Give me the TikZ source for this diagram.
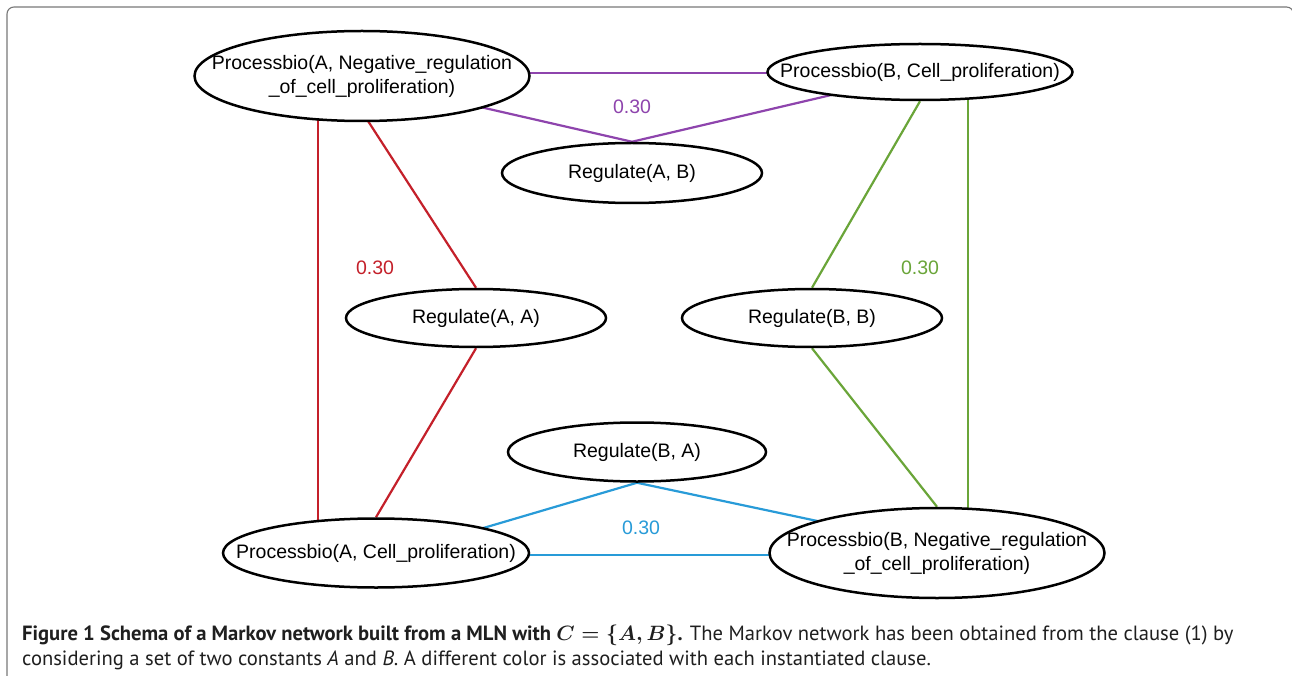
\documentclass[tikz,border=0pt]{standalone}
\usepackage{amsmath}
\usepackage{fontspec}
\setmainfont{Liberation Sans}
\newfontfamily\capfont{PT Sans}
\usetikzlibrary{shapes.geometric,calc,backgrounds}
\definecolor{cpurple}{RGB}{142,68,173}
\definecolor{cred}{RGB}{196,32,42}
\definecolor{cgreen}{RGB}{106,165,57}
\definecolor{cblue}{RGB}{40,155,216}
\definecolor{frame}{RGB}{120,120,120}
\begin{document}
\begin{tikzpicture}[x=1pt,y=-1pt,
  atom/.style={ellipse,draw=black,line width=2.5pt,fill=white,inner xsep=-300pt,inner ysep=-100pt,align=center,
    font=\fontsize{19.5}{24}\selectfont},
  link/.style={line width=2.2pt},
  wt/.style={font=\fontsize{19.5}{24}\selectfont,inner sep=0pt}]
\useasboundingbox (0,0) rectangle (1292,676);

% nodes
\node[atom,minimum width=335pt,minimum height=90pt] (PAN) at (362,76) {Processbio(A, Negative\_regulation\\\_of\_cell\_proliferation)};
\node[atom,minimum width=305pt,minimum height=56pt] (PBC) at (920,72) {Processbio(B, Cell\_proliferation)};
\node[atom,minimum width=260pt,minimum height=60pt] (RAB) at (632,173) {Regulate(A, B)};
\node[atom,minimum width=260pt,minimum height=58pt] (RAA) at (476,318) {Regulate(A, A)};
\node[atom,minimum width=260pt,minimum height=58pt] (RBB) at (812,318) {Regulate(B, B)};
\node[atom,minimum width=258pt,minimum height=59pt] (RBA) at (637,452) {Regulate(B, A)};
\node[atom,minimum width=306pt,minimum height=69pt] (PAC) at (376,553) {Processbio(A, Cell\_proliferation)};
\node[atom,minimum width=335pt,minimum height=90pt] (PBN) at (937,553) {Processbio(B, Negative\_regulation\\\_of\_cell\_proliferation)};

% weights
\node[wt,text=cpurple] (wP) at (632,107) {0.30};
\node[wt,text=cred] (wR) at (375,268) {0.30};
\node[wt,text=cgreen] (wG) at (920,268) {0.30};
\node[wt,text=cblue] (wB) at (641,528) {0.30};

% caption
\node[anchor=base west,align=left,inner sep=0pt,text=black!88,
  font=\capfont\fontsize{20.6}{25}\selectfont] (cap) at (22,665)
  {\textbf{Figure 1 Schema of a Markov network built from a MLN with {\boldmath$C = \{A, B\}$}.} The Markov network has been obtained from the clause (1) by\\
  considering a set of two constants \textit{A} and \textit{B}. A different color is associated with each instantiated clause.};

\begin{scope}[on background layer]
\fill[white] (0,0) rectangle (1292,676);
\draw[frame,line width=1.1pt,rounded corners=7pt] (7,700) -- (7,7) -- (1293.5,7) -- (1293.5,700);
% purple
\draw[link,cpurple] ($(PAN.center)+(0,-3)$) -- ($(PBC.center)+(0,1)$);
\draw[link,cpurple] ($(PAN.center)+(78,21.8)$) -- (RAB.north);
\draw[link,cpurple] ($(PBC.center)+(-70,18.6)$) -- (RAB.north);
% red
\draw[link,cred] ($(PAN.center)+(-44,0)$) -- ($(PAC.center)+(-58,0)$);
\draw[link,cred] ($(PAN.center)+(-10.2,20)$) -- (RAA.north);
\draw[link,cred] (RAA.south) -- (PAC.north);
% green
\draw[link,cgreen] (PBC.south) -- (RBB.north);
\draw[link,cgreen] ($(PBC.center)+(48,0)$) -- ($(PBN.center)+(31,0)$);
\draw[link,cgreen] (RBB.south) -- (PBN.north);
% blue
\draw[link,cblue] (RBA.south) -- ($(PAC.center)+(87,-19)$);
\draw[link,cblue] (RBA.south) -- ($(PBN.center)+(-97,-27.2)$);
\draw[link,cblue] ($(PAC.center)+(0,2)$) -- ($(PBN.center)+(0,2)$);
\end{scope}
\end{tikzpicture}
\end{document}
